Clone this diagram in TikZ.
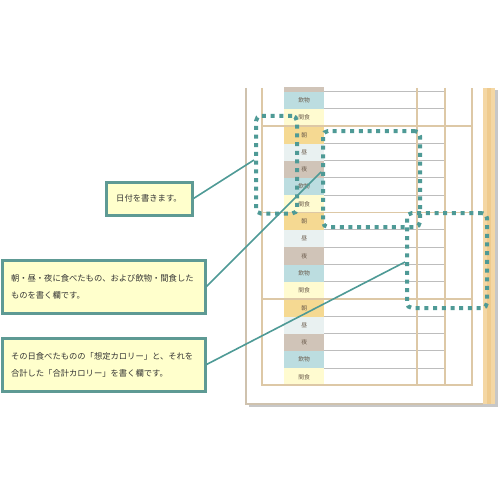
\documentclass[tikz,border=0pt]{standalone}
\usepackage{fontspec}
\setmainfont{Noto Sans CJK JP}
\definecolor{teal1}{HTML}{4E9A96}
\definecolor{boxfill}{HTML}{FFFFCC}
\definecolor{boxline}{HTML}{5E9A94}
\definecolor{tan1}{HTML}{DDC8A6}
\definecolor{pageline}{HTML}{CFC2AE}
\definecolor{strip}{HTML}{F4D7A4}
\definecolor{strip2}{HTML}{EFCB8E}
\definecolor{rowline}{HTML}{BDBDBD}
\definecolor{cAsa}{HTML}{F5D992}
\definecolor{cHiru}{HTML}{E9F1F1}
\definecolor{cYoru}{HTML}{D0C4B8}
\definecolor{cNomi}{HTML}{BCDDE0}
\definecolor{cKan}{HTML}{FFFBD0}
\definecolor{celltext}{HTML}{6A5A4A}
\tikzset{
  cell/.style={anchor=north west, minimum width=40pt, minimum height=17.3pt, inner sep=0pt,
    font=\fontsize{5.8}{6}\selectfont, text=celltext},
  dotbox/.style={draw=teal1, line width=4pt, dash pattern=on 4pt off 4.7pt, rounded corners=5pt,
    anchor=north west, inner sep=0pt},
  callout/.style={draw=boxline, line width=3pt, fill=boxfill, inner sep=0pt, align=left,
    font=\fontsize{8.3}{17}\selectfont, text=black!80},
  link/.style={draw=teal1, line width=1.6pt},
  tanline/.style={draw=tan1, line width=1.2pt},
}
\begin{document}
\begin{tikzpicture}[x=1pt,y=-1pt]
\useasboundingbox (0,0) rectangle (500,500);
\fill[white] (0,0) rectangle (500,500);
% page shadow
\fill[black!22] (249,404) rectangle (498,407);
\fill[black!22] (495,90) rectangle (498,407);
% page
\fill[white] (246,88) rectangle (483,404);
\fill[strip] (483,88) rectangle (495,404);
\fill[strip2] (487,88) rectangle (491,404);
\draw[pageline, line width=1.5pt] (246,88) -- (246,404) -- (483,404);
% cells
\begin{scope}
\clip (240,88) rectangle (500,404);
\foreach \b in {0,1,2,3} {
  \foreach \r/\lab/\col in {0/朝/cAsa,1/昼/cHiru,2/夜/cYoru,3/飲物/cNomi,4/間食/cKan} {
    \pgfmathsetmacro\yt{39.5+86.5*\b+17.3*\r}
    \node[cell, fill=\col] (c\b\r) at (284,\yt) {\lab};
  }
  \foreach \r in {1,2,3,4} {
    \pgfmathsetmacro\yl{39.5+86.5*\b+17.3*\r}
    \draw[rowline, line width=1pt] (324,\yl) -- (445,\yl);
  }
}
\end{scope}
% frame lines
\draw[tanline] (262,88) -- (262,385) -- (472,385) -- (472,88);
\draw[tanline] (417,88) -- (417,385);
\draw[tanline] (445,88) -- (445,385);
\foreach \y in {126,212.5,299} { \draw[tanline] (262,\y) -- (472,\y); }
% dotted highlight boxes
\node[dotbox, minimum width=41pt, minimum height=97.5pt] (ra) at (254,114) {};
\node[dotbox, minimum width=97pt, minimum height=96pt] (rb) at (321,129) {};
\node[dotbox, minimum width=80pt, minimum height=95pt] (rc) at (405,211) {};
\coordinate (ta) at (254,160);
\coordinate (tb) at (321,172);
\coordinate (tc) at (405,262);
% callouts
\node[callout, minimum width=86pt, minimum height=33pt] (b1) at (149,198.5) {日付を書きます。};
\node[callout, text width=185pt, minimum height=53pt, inner xsep=9pt] (b2) at (103.5,286.5)
  {朝・昼・夜に食べたもの、および飲物・間食した\\ものを書く欄です。};
\node[callout, text width=185pt, minimum height=53pt, inner xsep=9pt] (b3) at (103.5,364.5)
  {その日食べたものの「想定カロリー」と、それを\\合計した「合計カロリー」を書く欄です。};
% connectors
\draw[link] (b1.east) -- (ta);
\draw[link] (b2.east) -- (tb);
\draw[link] (b3.east) -- (tc);
\end{tikzpicture}
\end{document}
